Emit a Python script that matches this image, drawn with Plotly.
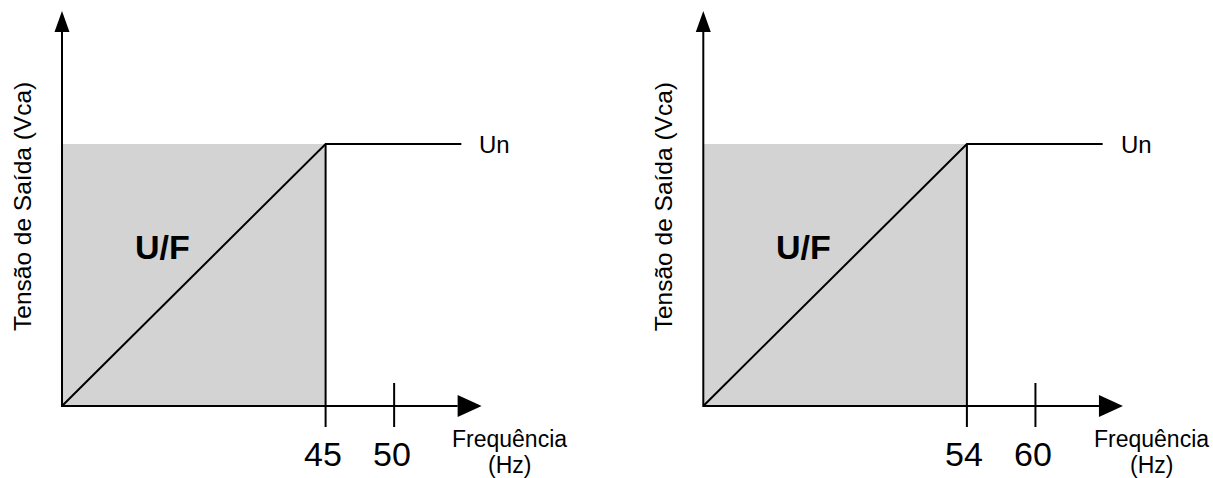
import plotly.graph_objects as go

# ---- data (schematic diagram units: base frequency -> 1, rated voltage Un -> 1)
panel_base_labels = ["45", "54"]      # knee (base) frequency labels
panel_rated_labels = ["50", "60"]     # nominal frequency labels
knee_pos = [1.0, 1.0]                 # schematic x of knee
rated_pos = [1.26, 1.26]              # schematic x of nominal frequency tick
un_level = [1.0, 1.0]                 # output voltage level Un
un_line_end = [1.515, 1.515]          # end of constant-voltage line
x_axis_end = [1.592, 1.592]           # tip of frequency axis arrow
y_axis_end = [1.508, 1.508]           # tip of voltage axis arrow
curve_label = "U/F"
un_label = "Un"
y_title = "Tensão de Saída (Vca)"
x_title = ["Frequência", "(Hz)"]

# ---- layout geometry (pixels)
W, H = 1213, 478
origin_px = [62.0, 703.3]
oy_px = 406.0
ux, uy = 263.6, 262.0
dom = [[0.0, 0.5], [0.5, 1.0]]

BLACK = "#000000"
GRAY = "#d3d3d3"
FONT = "Liberation Sans, Arial, sans-serif"

fig = go.Figure()
annotations = []
shapes = []

for i in range(2):
    xr = "x" if i == 0 else "x2"
    yr = "y" if i == 0 else "y2"
    k = knee_pos[i]
    u = un_level[i]
    r = rated_pos[i]
    # shaded region
    fig.add_trace(go.Scatter(x=[0, k, k, 0, 0], y=[0, 0, u, u, 0], fill="toself",
                             fillcolor=GRAY, line=dict(width=0), mode="lines",
                             hoverinfo="skip", showlegend=False, xaxis=xr, yaxis=yr))
    # U/F ramp + constant Un
    fig.add_trace(go.Scatter(x=[0, k, un_line_end[i]], y=[0, u, u], mode="lines",
                             line=dict(color=BLACK, width=2), showlegend=False,
                             hoverinfo="skip", xaxis=xr, yaxis=yr))
    tick_h = 21 / uy
    # vertical line at knee down to axis plus tick
    fig.add_trace(go.Scatter(x=[k, k], y=[u, -tick_h], mode="lines",
                             line=dict(color=BLACK, width=2), showlegend=False,
                             hoverinfo="skip", xaxis=xr, yaxis=yr))
    # tick at rated frequency
    fig.add_trace(go.Scatter(x=[r, r], y=[23 / uy, -tick_h], mode="lines",
                             line=dict(color=BLACK, width=2), showlegend=False,
                             hoverinfo="skip", xaxis=xr, yaxis=yr))
    # axes
    ah_len_x = 24 / ux
    ah_len_y = 21 / uy
    fig.add_trace(go.Scatter(x=[0, 0, x_axis_end[i] - ah_len_x], y=[y_axis_end[i] - ah_len_y, 0, 0],
                             mode="lines", line=dict(color=BLACK, width=2),
                             showlegend=False, hoverinfo="skip", xaxis=xr, yaxis=yr))
    # arrowheads
    xe = x_axis_end[i]
    ye = y_axis_end[i]
    hw = 11 / uy
    shapes.append(dict(type="path", xref=xr, yref=yr,
                       path=f"M{xe - ah_len_x},{hw} L{xe},0 L{xe - ah_len_x},{-hw} Z",
                       fillcolor=BLACK, line=dict(width=0)))
    vw = 7.5 / ux
    shapes.append(dict(type="path", xref=xr, yref=yr,
                       path=f"M{-vw},{ye - ah_len_y} L0,{ye} L{vw},{ye - ah_len_y} Z",
                       fillcolor=BLACK, line=dict(width=0)))
    # texts
    annotations.append(dict(x=0.381, y=0.607, xref=xr, yref=yr, text=f"<b>{curve_label}</b>",
                            showarrow=False, font=dict(size=34, color=BLACK, family=FONT),
                            xanchor="center", yanchor="middle"))
    annotations.append(dict(x=un_line_end[i] + 16 / ux, y=u, xref=xr, yref=yr, text=un_label,
                            showarrow=False, font=dict(size=24, color=BLACK, family=FONT),
                            xanchor="left", yanchor="middle"))
    lab_y = -48 / uy
    annotations.append(dict(x=k - 3 / ux, y=lab_y, xref=xr, yref=yr, text=panel_base_labels[i],
                            showarrow=False, font=dict(size=34, color=BLACK, family=FONT),
                            xanchor="center", yanchor="middle"))
    annotations.append(dict(x=r - 2 / ux, y=lab_y, xref=xr, yref=yr, text=panel_rated_labels[i],
                            showarrow=False, font=dict(size=34, color=BLACK, family=FONT),
                            xanchor="center", yanchor="middle"))
    annotations.append(dict(x=1.699, y=-33 / uy, xref=xr, yref=yr, text=x_title[0],
                            showarrow=False, font=dict(size=23, color=BLACK, family=FONT),
                            xanchor="center", yanchor="middle"))
    annotations.append(dict(x=1.699, y=-59 / uy, xref=xr, yref=yr, text=x_title[1],
                            showarrow=False, font=dict(size=23, color=BLACK, family=FONT),
                            xanchor="center", yanchor="middle"))
    annotations.append(dict(x=-40 / ux, y=199 / uy, xref=xr, yref=yr, text=y_title,
                            textangle=-90, showarrow=False,
                            font=dict(size=24.5, color=BLACK, family=FONT),
                            xanchor="center", yanchor="middle"))

split_px = W * 0.5
ax_common = dict(visible=False, showgrid=False, zeroline=False, fixedrange=True)
fig.update_layout(
    width=W, height=H,
    margin=dict(l=0, r=0, t=0, b=0),
    paper_bgcolor="white", plot_bgcolor="rgba(0,0,0,0)",
    xaxis=dict(domain=dom[0], range=[(0 - origin_px[0]) / ux, (split_px - origin_px[0]) / ux],
               anchor="y", **ax_common),
    xaxis2=dict(domain=dom[1], range=[(split_px - origin_px[1]) / ux, (W - origin_px[1]) / ux],
                anchor="y2", **ax_common),
    yaxis=dict(domain=[0, 1], range=[(oy_px - H) / uy, oy_px / uy], anchor="x", **ax_common),
    yaxis2=dict(domain=[0, 1], range=[(oy_px - H) / uy, oy_px / uy], anchor="x2", **ax_common),
    annotations=annotations,
    shapes=shapes,
    showlegend=False,
)

fig.write_html("out.html",
               config={"displayModeBar": False, "staticPlot": True},
               post_script="document.body.style.margin='0';document.body.style.overflow='hidden';")
